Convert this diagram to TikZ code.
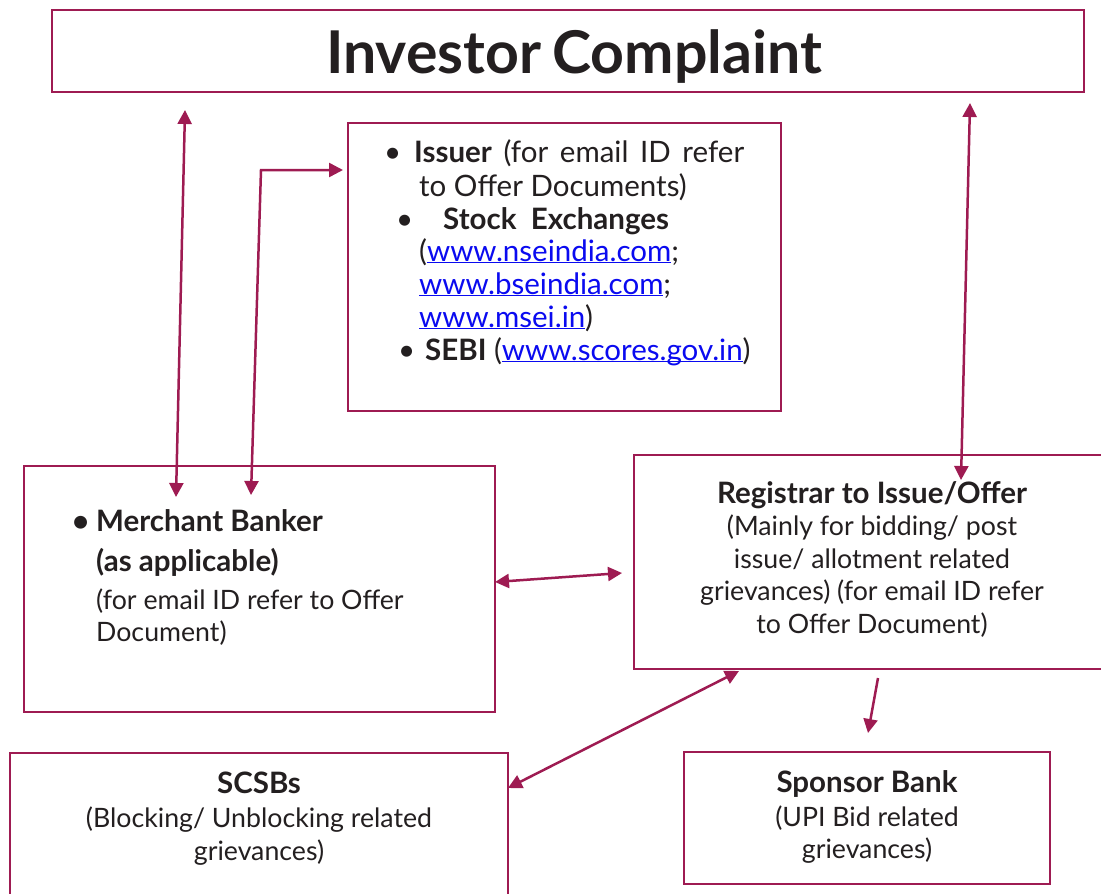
\documentclass[tikz,border=0pt]{standalone}
\usepackage{fontspec}
\setmainfont{Lato}
\usetikzlibrary{arrows.meta, positioning}

\definecolor{maroon}{RGB}{158,27,82}
\definecolor{ink}{RGB}{35,31,32}
\definecolor{linkblue}{RGB}{10,10,240}

\newcommand{\titlefont}{\fontsize{59}{68}\selectfont\bfseries}
\newcommand{\issuerfont}{\fontsize{29.5}{33}\selectfont}
\newcommand{\headfont}{\fontsize{29.5}{32}\selectfont\bfseries}
\newcommand{\bodyfont}{\fontsize{26.7}{32}\selectfont}
\newcommand{\weblink}[1]{{\color{linkblue}\underline{\smash{#1}}}}

\begin{document}
\begin{tikzpicture}[x=1pt, y=-1pt,
    box/.style={draw=maroon, line width=2.5pt, inner sep=0pt, fill=white},
    txt/.style={anchor=base west, inner sep=0pt, text=ink},
    ctxt/.style={anchor=base, inner sep=0pt, text=ink, align=center},
    link/.style={draw=maroon, line width=2.5pt, {Triangle[length=14pt,width=14pt]}-{Triangle[length=14pt,width=14pt]}},
    onelink/.style={draw=maroon, line width=2.5pt, -{Triangle[length=14pt,width=14pt]}}]
    \useasboundingbox (0,0) rectangle (1101,894);

    % Boxes
    \node[box, minimum width=1032pt, minimum height=82pt] (title) at (568,51) {};
    \node[box, minimum width=433pt, minimum height=288pt] (issuer) at (564.5,267) {};
    \node[box, minimum width=471pt, minimum height=246pt] (merchant) at (259.5,589) {};
    \node[box, minimum width=478pt, minimum height=214pt] (registrar) at (873,562) {};
    \node[box, minimum width=498pt, minimum height=156pt] (scsb) at (259,831) {};
    \node[box, minimum width=366pt, minimum height=132pt] (sponsor) at (867,818) {};

    % Title
    \node[ctxt] (titletext) at (574,73) {\titlefont Investor\hspace{-3pt} Complaint};

    % Issuer box
    \node[txt] (issuerdot) at (384,162) {\issuerfont •};
    \node[txt] (issuerA) at (414,162) {\issuerfont\makebox[330pt][s]{\textbf{Issuer} (for email ID refer}};
    \node[txt] (issuerB) at (419,196) {\issuerfont to Offer Documents)};
    \node[txt] (stockdot) at (396,229) {\issuerfont •};
    \node[txt] (stockA) at (443,229) {\issuerfont\bfseries Stock\ \ Exchanges};
    \node[txt] (stockB) at (419,261) {\issuerfont (\weblink{www.nseindia.com};};
    \node[txt] (stockC) at (419,294) {\issuerfont \weblink{www.bseindia.com};};
    \node[txt] (stockD) at (419,327) {\issuerfont \weblink{www.msei.in})};
    \node[txt] (sebidot) at (398,360) {\issuerfont •};
    \node[txt] (sebiA) at (425,360) {\issuerfont\textbf{SEBI} (\weblink{www.scores.gov.in})};

    % Merchant Banker
    \node[txt] (merchdot) at (72,531) {\headfont •};
    \node[txt] (merchA) at (96,531) {\headfont Merchant Banker};
    \node[txt] (merchB) at (96,571) {\headfont (as applicable)};
    \node[txt] (merchC) at (96,609) {\bodyfont (for email ID refer to Offer};
    \node[txt] (merchD) at (96,641) {\bodyfont Document)};

    % Registrar
    \node[ctxt] (regA) at (872,503) {\headfont Registrar to Issue/Offer};
    \node[ctxt] (regB) at (872,535) {\bodyfont (Mainly for bidding/ post};
    \node[ctxt] (regC) at (872,568) {\bodyfont issue/ allotment related};
    \node[ctxt] (regD) at (872,600) {\bodyfont grievances) (for email ID refer};
    \node[ctxt] (regE) at (872,633) {\bodyfont to Offer Document)};

    % SCSBs
    \node[ctxt] (scsbA) at (259,793) {\headfont SCSBs};
    \node[ctxt] (scsbB) at (259,827) {\bodyfont (Blocking/ Unblocking related};
    \node[ctxt] (scsbC) at (259,860) {\bodyfont grievances)};

    % Sponsor Bank
    \node[ctxt] (sponA) at (867,792) {\headfont Sponsor Bank};
    \node[ctxt] (sponB) at (867,826) {\bodyfont (UPI Bid related};
    \node[ctxt] (sponC) at (867,858) {\bodyfont grievances)};

    % Arrow ends
    \coordinate (titleL) at (185,110);
    \coordinate (merchL) at (176,497);
    \coordinate (issuerIn) at (343,170);
    \coordinate (bend) at (261,170);
    \coordinate (merchR) at (251,495);
    \coordinate (titleR) at (970,103);
    \coordinate (regTop) at (961,480);
    \coordinate (merchE) at (495,582);
    \coordinate (regW) at (622,573);
    \coordinate (regS) at (739,671);
    \coordinate (scsbE) at (508,788);
    \coordinate (regOut) at (878,678);
    \coordinate (sponIn) at (868,733);

    % Connectors
    \draw[link] (titleL) -- (merchL);
    \draw[link] (issuerIn) -- (bend) -- (merchR);
    \draw[link] (titleR) -- (regTop);
    \draw[link] (merchE) -- (regW);
    \draw[link] (regS) -- (scsbE);
    \draw[onelink] (regOut) -- (sponIn);
\end{tikzpicture}
\end{document}
